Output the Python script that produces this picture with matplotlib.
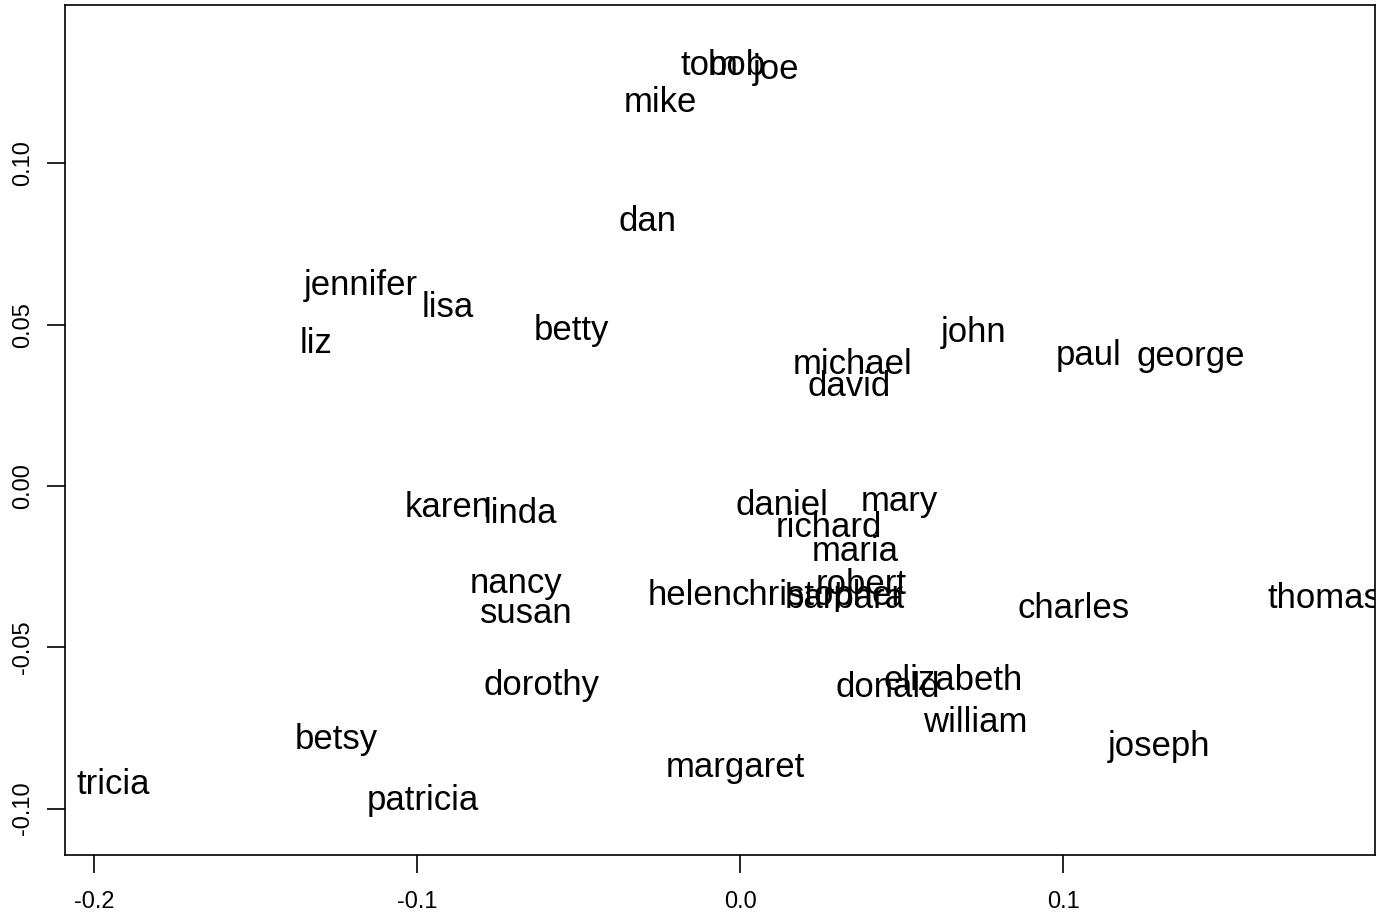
import matplotlib
matplotlib.use("Agg")
import matplotlib.pyplot as plt

plt.rcParams['font.family'] = ['Liberation Sans', 'DejaVu Sans']

names = ["tom", "bob", "joe", "mike", "dan", "jennifer", "lisa", "liz", "betty",
         "john", "paul", "george", "michael", "david", "karen", "linda", "daniel",
         "mary", "richard", "maria", "robert", "helen", "christopher", "barbara",
         "nancy", "susan", "charles", "thomas", "dorothy", "donald", "elizabeth",
         "william", "joseph", "betsy", "margaret", "tricia", "patricia"]

dim1 = [-0.0094, -0.0010, 0.0112, -0.0248, -0.0288, -0.1175, -0.0904, -0.1312, -0.0523,
        0.0722, 0.1080, 0.1396, 0.0350, 0.0337, -0.0904, -0.0681, 0.0130,
        0.0492, 0.0274, 0.0356, 0.0375, -0.0155, 0.0241, 0.0325,
        -0.0694, -0.0663, 0.1034, 0.1808, -0.0614, 0.0457, 0.0660,
        0.0728, 0.1297, -0.1251, -0.0015, -0.1941, -0.0981]

dim2 = [0.1302, 0.1302, 0.1292, 0.1188, 0.0819, 0.0620, 0.0552, 0.0441, 0.0481,
        0.0475, 0.0406, 0.0400, 0.0375, 0.0307, -0.0068, -0.0084, -0.0062,
        -0.0049, -0.0130, -0.0204, -0.0307, -0.0341, -0.0341, -0.0350,
        -0.0301, -0.0394, -0.0381, -0.0350, -0.0617, -0.0626, -0.0604,
        -0.0732, -0.0809, -0.0787, -0.0874, -0.0927, -0.0976]

xticks = [-0.2, -0.1, 0.0, 0.1]
xtick_labels = ["-0.2", "-0.1", "0.0", "0.1"]
yticks = [0.10, 0.05, 0.00, -0.05, -0.10]
ytick_labels = ["0.10", "0.05", "0.00", "-0.05", "-0.10"]

fig = plt.figure(figsize=(13.78, 9.15), dpi=100)
ax = fig.add_axes([65 / 1378, 60 / 915, 1310 / 1378, 850 / 915])
ax.set_xlim(-0.2090, 0.1966)
ax.set_ylim(-0.1144, 0.1491)

for name, x, y in zip(names, dim1, dim2):
    ax.text(x, y, name, ha='center', va='center', fontsize=25, color='black',
            clip_on=True)

ax.set_xticks(xticks)
ax.set_xticklabels(xtick_labels)
ax.set_yticks(yticks)
ax.set_yticklabels(ytick_labels, rotation=90, va='center')
ax.tick_params(axis='both', direction='out', length=13, width=1.2,
               labelsize=17, color='black')
ax.tick_params(axis='x', pad=13)
ax.tick_params(axis='y', pad=9)
for s in ax.spines.values():
    s.set_linewidth(1.2)
    s.set_color('black')

fig.savefig("out.png", dpi=100)
